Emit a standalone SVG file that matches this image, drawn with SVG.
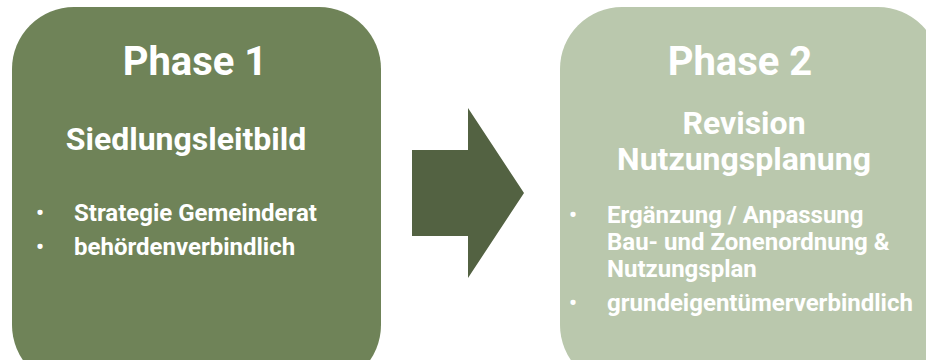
<svg xmlns="http://www.w3.org/2000/svg" width="926" height="360" viewBox="0 0 926 360">
<style>
text{font-family:Roboto,"Liberation Sans",sans-serif;font-weight:bold;fill:#ffffff}
.h1{font-size:40px;text-anchor:middle}
.h2{font-size:32px;text-anchor:middle}
.b{font-size:24px}
.d{font-size:22px}
</style>
<rect width="926" height="360" fill="#ffffff"/>
<g id="phase1">
<rect x="12" y="7" width="369" height="380" rx="62" fill="#6f8358"/>
<text class="h1" x="195" y="75">Phase 1</text>
<text class="h2" x="186" y="150">Siedlungsleitbild</text>
<text class="d" x="36" y="220">•</text>
<text class="b" x="74" y="221">Strategie Gemeinderat</text>
<text class="d" x="36" y="254">•</text>
<text class="b" x="74" y="255">behördenverbindlich</text>
</g>
<g id="connectors">
<polygon points="412,150 468,150 468,108 524,193 468,278 468,236 412,236" fill="#536242"/>
</g>
<g id="phase2">
<rect x="560" y="7" width="380" height="380" rx="62" fill="#bac8ad"/>
<text class="h1" x="740" y="75">Phase 2</text>
<text class="h2" x="744" y="134">Revision</text>
<text class="h2" x="744" y="170">Nutzungsplanung</text>
<text class="d" x="569" y="222">•</text>
<text class="b" x="607" y="223">Ergänzung / Anpassung</text>
<text class="b" x="607" y="250">Bau- und Zonenordnung &amp;</text>
<text class="b" x="607" y="277">Nutzungsplan</text>
<text class="d" x="569" y="310">•</text>
<text class="b" x="607" y="311">grundeigentümerverbindlich</text>
</g>
</svg>
